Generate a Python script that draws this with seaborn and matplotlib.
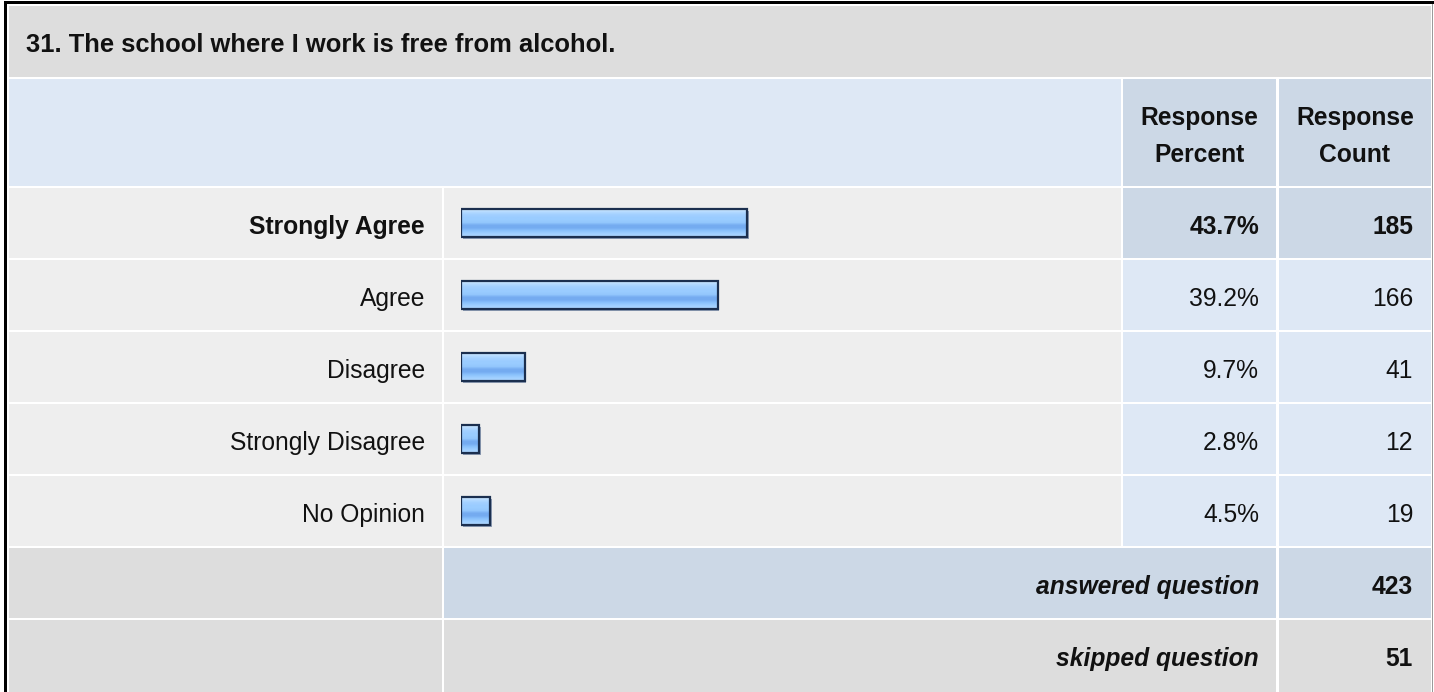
import os
import numpy as np
import pandas as pd
import matplotlib
matplotlib.use("Agg")
import matplotlib.pyplot as plt
import matplotlib.transforms as mtransforms
from matplotlib import font_manager as fm
from matplotlib.colors import to_rgb
from matplotlib.patches import Rectangle
import seaborn as sns

# Survey data
question = "31. The school where I work is free from alcohol."
answers = ["Strongly Agree", "Agree", "Disagree", "Strongly Disagree", "No Opinion"]
percents = [43.7, 39.2, 9.7, 2.8, 4.5]
counts = [185, 166, 41, 12, 19]
answered = 423
skipped = 51
header_cols = ["Response\nPercent", "Response\nCount"]

# Layout (pixels, top-left origin)
W, H = 1434, 692
COL_LABEL = (9, 442)
COL_BAR = (444, 1121)
COL_PCT = (1123, 1276)
COL_CNT = (1279, 1431)
TITLE_ROW = (6, 77)
HEAD_ROW = (79, 186)
ROW0, ROW_H, ROW_STEP = 188, 70, 72
PAD = 17
BASE = 11  # baseline offset below row centre

GREY = "#dddddd"
LIGHT = "#eeeeee"
BLUE = "#dee8f5"
BLUE2 = "#ccd8e6"
INK = "#111111"
FS = 17.7
FS_TITLE = 18.35


# pick the real Liberation Sans files (not the Narrow cut)
def lib_file(style):
    for f in fm.fontManager.ttflist:
        if os.path.basename(f.fname).lower() == f"liberationsans-{style}.ttf":
            return f.fname
    return None


FONT_FILES = {k: lib_file(k) for k in ["regular", "bold", "italic", "bolditalic"]}


def fprop(bold=False, italic=False, size=FS):
    key = ("bold" if bold else "") + ("italic" if italic else "")
    key = key or "regular"
    if FONT_FILES[key]:
        return fm.FontProperties(fname=FONT_FILES[key], size=size)
    return fm.FontProperties(family="Liberation Sans", size=size,
                             weight="bold" if bold else "normal",
                             style="italic" if italic else "normal")


fig = plt.figure(figsize=(W / 100, H / 100), dpi=100)
bg = fig.add_axes([0, 0, 1, 1])
bg.set_xlim(0, W)
bg.set_ylim(H, 0)
bg.axis("off")


def cell(x0, x1, y0, y1, color):
    bg.add_patch(Rectangle((x0, y0), x1 - x0, y1 - y0, facecolor=color, edgecolor="none"))


def txt(x, y, s, ha="right", bold=False, italic=False, size=FS):
    bg.text(x, y, s, ha=ha, va="baseline", color=INK,
            fontproperties=fprop(bold, italic, size))


# outer frame
bg.add_patch(Rectangle((4, 1), W - 4, 3, facecolor="black", edgecolor="none"))
bg.add_patch(Rectangle((4, 1), 3, H, facecolor="black", edgecolor="none"))
bg.add_patch(Rectangle((1431.5, 4), 1.5, H, facecolor="#9a9a9a", edgecolor="none"))

# title row
cell(COL_LABEL[0], COL_CNT[1], *TITLE_ROW, GREY)
txt(26, (TITLE_ROW[0] + TITLE_ROW[1]) / 2 + BASE, question, ha="left", bold=True,
    size=FS_TITLE)

# header row
cell(COL_LABEL[0], COL_BAR[1], *HEAD_ROW, BLUE)
hc = (HEAD_ROW[0] + HEAD_ROW[1]) / 2
for col, lab in zip([COL_PCT, COL_CNT], header_cols):
    cell(*col, *HEAD_ROW, BLUE2)
    for k, line in enumerate(lab.split("\n")):
        txt((col[0] + col[1]) / 2, hc - 7.5 + 37 * k, line, ha="center", bold=True)

# answer rows
top = int(np.argmax(counts))
for i, (a, p, c) in enumerate(zip(answers, percents, counts)):
    y0 = ROW0 + i * ROW_STEP
    y1 = y0 + ROW_H
    yb = (y0 + y1) / 2 + BASE
    hl = i == top
    cell(*COL_LABEL, y0, y1, LIGHT)
    cell(*COL_BAR, y0, y1, LIGHT)
    cell(*COL_PCT, y0, y1, BLUE2 if hl else BLUE)
    cell(*COL_CNT, y0, y1, BLUE2 if hl else BLUE)
    txt(COL_LABEL[1] - PAD, yb, a, bold=hl)
    txt(COL_PCT[1] - PAD, yb, f"{p:.1f}%", bold=hl)
    txt(COL_CNT[1] - PAD - 1, yb, f"{c}", bold=hl)

# summary rows
ya = ROW0 + len(answers) * ROW_STEP
cell(*COL_LABEL, ya, ya + ROW_H, GREY)
cell(COL_BAR[0], COL_PCT[1], ya, ya + ROW_H, BLUE2)
cell(*COL_CNT, ya, ya + ROW_H, BLUE2)
txt(COL_PCT[1] - PAD, ya + ROW_H / 2 + BASE, "answered question", bold=True, italic=True)
txt(COL_CNT[1] - PAD - 1, ya + ROW_H / 2 + BASE, f"{answered}", bold=True)

ys = ya + ROW_STEP
cell(*COL_LABEL, ys, H, GREY)
cell(COL_BAR[0], COL_PCT[1], ys, H, GREY)
cell(*COL_CNT, ys, H, GREY)
txt(COL_PCT[1] - PAD, ys + ROW_H / 2 + BASE, "skipped question", bold=True, italic=True)
txt(COL_CNT[1] - PAD - 1, ys + ROW_H / 2 + BASE, f"{skipped}", bold=True)

# bars (0..100 % over 655 px)
bar_left, bar_span = 461, 655
band_top, band_h = ROW0 - 1, ROW_STEP * len(answers)
bax = fig.add_axes([bar_left / W, 1 - (band_top + band_h) / H, bar_span / W, band_h / H])
df = pd.DataFrame({"answer": answers, "percent": percents})
sns.barplot(data=df, x="percent", y="answer", orient="h", ax=bax, width=0.39,
            color="#99ccff", saturation=1, edgecolor="#1b2f4f", linewidth=1.6)

stripes = ["#d0e9ff", "#b4daff", "#a3d0ff", "#9bccff", "#99ccff", "#93c7fd",
           "#76acf0", "#74abf0", "#88c0fb", "#9ccdff", "#aad5ff"]
grad = np.array([to_rgb(s) for s in stripes])[:, None, :]
shift = mtransforms.ScaledTranslation(1.2 / 72, -1.2 / 72, fig.dpi_scale_trans)
for p in list(bax.patches):
    x0, y0, w, h = p.get_x(), p.get_y(), p.get_width(), p.get_height()
    bax.add_patch(Rectangle((x0, y0), w, h, transform=bax.transData + shift,
                            facecolor="#8e9cb4", edgecolor="none", zorder=1))
    im = bax.imshow(grad, extent=(x0, x0 + w, y0 + h, y0), aspect="auto",
                    interpolation="bilinear", zorder=2)
    im.set_clip_path(p)
    p.set_facecolor("none")
    p.set_zorder(3)

bax.set_xlim(0, 100)
bax.set_ylim(len(answers) - 0.5, -0.5)
bax.axis("off")

fig.savefig("out.png", dpi=100)
